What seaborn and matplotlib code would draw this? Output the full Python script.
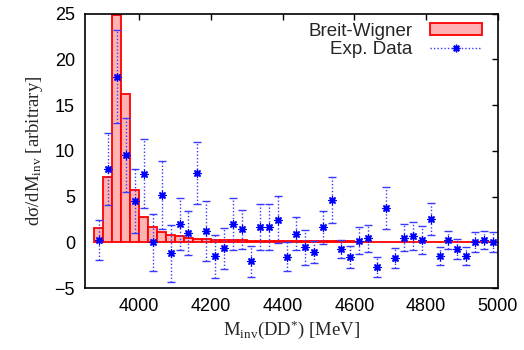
import numpy as np
import pandas as pd
import seaborn as sns
import matplotlib
matplotlib.use("Agg")
import matplotlib.pyplot as plt
from matplotlib.patches import Patch
from matplotlib.lines import Line2D

# ---- data ----
bin_edges_start = 3875
bin_width = 25
bw_values = [1.53, 7.19, 24.9, 16.2, 5.7, 2.74, 1.64, 1.09, 0.84, 0.66,
             0.51, 0.40, 0.33, 0.29, 0.26, 0.23, 0.21, 0.19, 0.17, 0.16,
             0.15, 0.14, 0.13, 0.12, 0.11, 0.105, 0.10, 0.095, 0.09, 0.085,
             0.08, 0.077, 0.074, 0.071, 0.068, 0.065, 0.062, 0.06, 0.058, 0.056,
             0.054, 0.052, 0.05, 0.048, 0.046]
exp_values = [0.26, 8.0, 18.1, 9.5, 4.5, 7.5, 0.0, 5.2, -1.2, 2.0,
              1.0, 7.55, 1.24, -1.5, -0.66, 2.0, 1.42, -2.08, 1.64, 1.64,
              2.48, -1.57, 0.95, -0.55, -1.06, 1.64, 4.63, -0.73, -1.57, 0.18,
              0.44, -2.74, 3.72, -1.68, 0.51, 0.69, 0.26, 2.55, -1.5, 0.26,
              -0.7, -1.5, 0.0, 0.26, 0.0]
exp_errors = [2.2, 3.9, 5.1, 4.05, 3.5, 3.75, 3.1, 3.7, 3.1, 2.8,
              2.4, 3.4, 3.3, 2.35, 2.25, 2.8, 2.1, 1.7, 2.5, 2.5,
              2.6, 1.6, 1.8, 1.9, 1.25, 1.8, 2.5, 1.0, 1.2, 1.45,
              1.5, 1.1, 2.3, 1.1, 1.5, 1.5, 1.5, 1.7, 1.0, 1.0,
              1.1, 1.0, 1.1, 1.0, 1.1]
x_ticks = [4000, 4200, 4400, 4600, 4800, 5000]
y_ticks = [-5, 0, 5, 10, 15, 20, 25]

n = len(bw_values)
centers = bin_edges_start + bin_width * (np.arange(n) + 0.5)
df = pd.DataFrame({"M": centers, "bw": bw_values, "exp": exp_values, "err": exp_errors})

# ---- style ----
sns.set_theme(style="white")
plt.rcParams["font.family"] = ["Liberation Sans", "DejaVu Sans"]
plt.rcParams["mathtext.fontset"] = "custom"
plt.rcParams["mathtext.rm"] = "Liberation Serif"
plt.rcParams["mathtext.it"] = "Liberation Serif:italic"

fig = plt.figure(figsize=(5.24, 3.5), dpi=100)
ax = fig.add_axes([0.1616, 0.177, 0.7884, 0.784])

sns.histplot(data=df, x="M", weights="bw", binwidth=bin_width,
             binrange=(bin_edges_start, bin_edges_start + n * bin_width), ax=ax,
             stat="count", element="bars", fill=True, legend=False)
for p in ax.patches:
    p.set_facecolor("#ffb3b3")
    p.set_edgecolor("#ff0000")
    p.set_linewidth(1.3)
    p.set_alpha(1)

eb = ax.errorbar(df["M"], df["exp"], yerr=df["err"], fmt="none", ecolor="#3a3aff",
                 elinewidth=1.0, capsize=3, capthick=1.0)
for c in eb.lines[2]:
    c.set_linestyle((0, (1, 1.5)))
for cap in eb.lines[1]:
    cap.set_linestyle("none")
    cap.set_marker("_")
sns.scatterplot(data=df, x="M", y="exp", ax=ax, marker="s", s=9,
                color="#0000ff", edgecolor="#0000ff", linewidth=0.5, zorder=5)
sns.scatterplot(data=df, x="M", y="exp", ax=ax, marker=(8, 2, 0), s=26,
                color="#0000ff", edgecolor="#0000ff", linewidth=1.0, zorder=6)

ax.set_xlim(3848, 5000)
ax.set_ylim(-5, 25)
ax.set_xticks(x_ticks)
ax.set_yticks(y_ticks)
ax.tick_params(direction="in", length=4, width=1, top=True, right=True,
               labelsize=13, pad=7, colors="black")
for s in ax.spines.values():
    s.set_color("black")
    s.set_linewidth(1.2)

ax.set_xlabel(r"M$_{\rm inv}$(DD$^{*}$) [MeV]", family="Liberation Serif", fontsize=13.5, labelpad=3)
ax.set_ylabel(r"dσ/dM$_{\rm inv}$ [arbitrary]", family="Liberation Serif", fontsize=13.5, labelpad=7)

h1 = Patch(facecolor="#ffb3b3", edgecolor="#ff0000", linewidth=1.3)
h2 = Line2D([], [], color="#3a3aff", linestyle=(0, (1, 1.5)), linewidth=1.0,
            marker=(8, 2, 0), markersize=5.5, markeredgewidth=1.0,
            markeredgecolor="#0000ff")
leg = ax.legend([h1, h2], ["Breit-Wigner", "Exp. Data"], loc="upper right",
                frameon=False, markerfirst=False, fontsize=13.5, handlelength=2.8,
                handleheight=0.6, numpoints=1, borderaxespad=0.1,
                labelspacing=0.05, handletextpad=0.9, bbox_to_anchor=(0.985, 1.0))

fig.savefig("out.png", dpi=100)
